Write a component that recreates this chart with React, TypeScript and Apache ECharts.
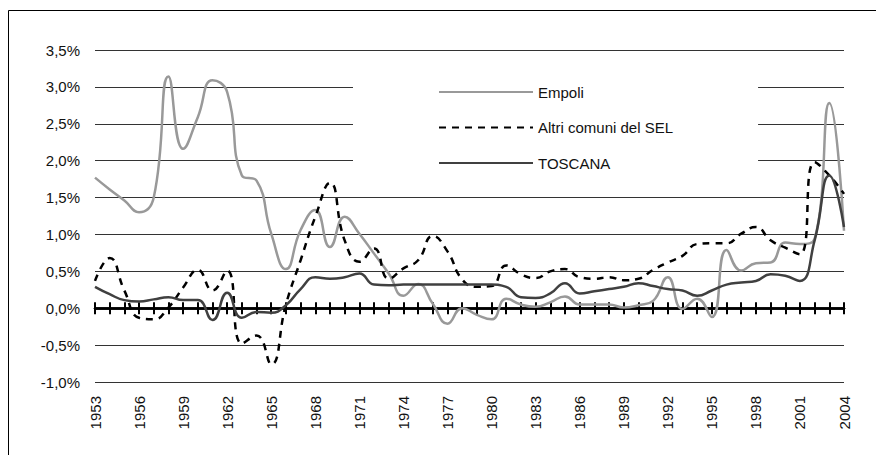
import React, { useEffect, useRef } from "react";
import * as echarts from "echarts";

const years: string[] = [
  "1953","1954","1955","1956","1957","1958","1959","1960","1961","1962",
  "1963","1964","1965","1966","1967","1968","1969","1970","1971","1972",
  "1973","1974","1975","1976","1977","1978","1979","1980","1981","1982",
  "1983","1984","1985","1986","1987","1988","1989","1990","1991","1992",
  "1993","1994","1995","1996","1997","1998","1999","2000","2001","2002",
  "2003","2004",
];

const empoli: number[] = [
  1.77, 1.61, 1.46, 1.30, 1.50, 3.14, 2.16, 2.59, 3.09, 2.93,
  1.80, 1.73, 1.01, 0.53, 1.06, 1.33, 0.83, 1.24, 1.01, 0.74,
  0.47, 0.17, 0.33, 0.06, -0.21, 0.00, -0.09, -0.15, 0.13, 0.05,
  0.02, 0.08, 0.16, 0.05, 0.05, 0.05, 0.01, 0.04, 0.10, 0.42,
  -0.01, 0.13, -0.12, 0.79, 0.51, 0.61, 0.62, 0.89, 0.87, 0.94,
  2.78, 1.05,
];

const altriSel: number[] = [
  0.37, 0.68, 0.24, -0.13, -0.15, 0.01, 0.28, 0.52, 0.24, 0.51,
  -0.48, -0.37, -0.76, 0.05, 0.65, 1.24, 1.70, 0.92, 0.63, 0.81,
  0.40, 0.54, 0.65, 0.98, 0.77, 0.39, 0.29, 0.30, 0.58, 0.46,
  0.41, 0.50, 0.53, 0.42, 0.40, 0.42, 0.38, 0.40, 0.52, 0.62,
  0.71, 0.87, 0.88, 0.88, 1.01, 1.10, 0.92, 0.82, 0.73, 1.98,
  1.80, 1.55,
];

const toscana: number[] = [
  0.29, 0.19, 0.11, 0.09, 0.12, 0.15, 0.11, 0.11, -0.16, 0.21,
  -0.13, -0.05, -0.06, 0.04, 0.26, 0.42, 0.40, 0.42, 0.47, 0.32,
  0.31, 0.32, 0.32, 0.32, 0.32, 0.32, 0.32, 0.32, 0.29, 0.15,
  0.14, 0.20, 0.34, 0.20, 0.23, 0.26, 0.29, 0.34, 0.30, 0.26,
  0.24, 0.17, 0.24, 0.32, 0.35, 0.37, 0.46, 0.44, 0.37, 0.92,
  1.80, 1.10,
];

const seriesNames = ["Empoli", "Altri comuni del SEL", "TOSCANA"];

const FONT = "'Liberation Sans', Arial, sans-serif";

export default function App() {
  const ref = useRef<HTMLDivElement>(null);

  useEffect(() => {
    if (!ref.current) return;
    const chart = echarts.init(ref.current, undefined, { renderer: "svg" });
    const zeroAxisCommon = {
      type: "category" as const,
      data: years,
      boundaryGap: false,
      axisLine: {
        show: true,
        onZero: true,
        onZeroAxisIndex: 0,
        lineStyle: { color: "#000", width: 2.5 },
      },
      axisTick: {
        show: true,
        interval: 0,
        length: 6,
        lineStyle: { color: "#000", width: 2 },
      },
      splitLine: { show: false },
    };
    chart.setOption({
      animation: false,
      backgroundColor: "#fff",
      grid: {
        left: 95,
        right: 32,
        top: 50,
        bottom: 73,
        containLabel: false,
        outerBoundsMode: "none",
      },
      xAxis: [
        {
          ...zeroAxisCommon,
          position: "bottom",
          axisLabel: {
            show: true,
            interval: 2,
            rotate: 90,
            margin: 14,
            fontSize: 15,
            fontFamily: FONT,
            color: "#111",
          },
        },
        {
          ...zeroAxisCommon,
          position: "top",
          axisLabel: { show: false },
        },
      ],
      yAxis: {
        type: "value",
        min: -1,
        max: 3.5,
        interval: 0.5,
        axisLine: { show: false },
        axisTick: { show: false },
        axisLabel: {
          margin: 15,
          fontSize: 15,
          fontFamily: FONT,
          color: "#111",
          formatter: (v: number) => v.toFixed(1).replace(".", ",") + "%",
        },
        splitLine: { show: true, lineStyle: { color: "#333", width: 1 } },
      },
      legend: {
        show: true,
        orient: "vertical",
        left: 353,
        top: 55,
        padding: [28, 85, 8, 85],
        backgroundColor: "#fff",
        itemWidth: 94,
        itemHeight: 14,
        itemGap: 17.5,
        itemStyle: { opacity: 0 },
        textStyle: { fontSize: 15, fontFamily: FONT, color: "#111", lineHeight: 18 },
        data: seriesNames,
      },
      graphic: [
        {
          type: "rect",
          shape: { x: 8.5, y: 10.5, width: 900, height: 500 },
          style: { fill: "none", stroke: "#000", lineWidth: 1 },
          silent: true,
        },
      ],
      series: [
        {
          name: seriesNames[0],
          type: "line",
          xAxisIndex: 0,
          data: empoli,
          smooth: 0.5,
          symbol: "none",
          lineStyle: { color: "#999999", width: 2.5 },
          itemStyle: { color: "#999999" },
          z: 3,
        },
        {
          name: seriesNames[1],
          type: "line",
          xAxisIndex: 0,
          data: altriSel,
          smooth: 0.5,
          symbol: "none",
          lineStyle: { color: "#000", width: 2.5, type: [7, 6] },
          itemStyle: { color: "#000" },
          z: 4,
        },
        {
          name: seriesNames[2],
          type: "line",
          xAxisIndex: 0,
          data: toscana,
          smooth: 0.5,
          symbol: "none",
          lineStyle: { color: "#404040", width: 2.5 },
          itemStyle: { color: "#404040" },
          z: 5,
        },
      ],
    });
    return () => chart.dispose();
  }, []);

  return (
    <div
      ref={ref}
      style={{ position: "fixed", left: 0, top: 0, width: 876, height: 455 }}
    />
  );
}
